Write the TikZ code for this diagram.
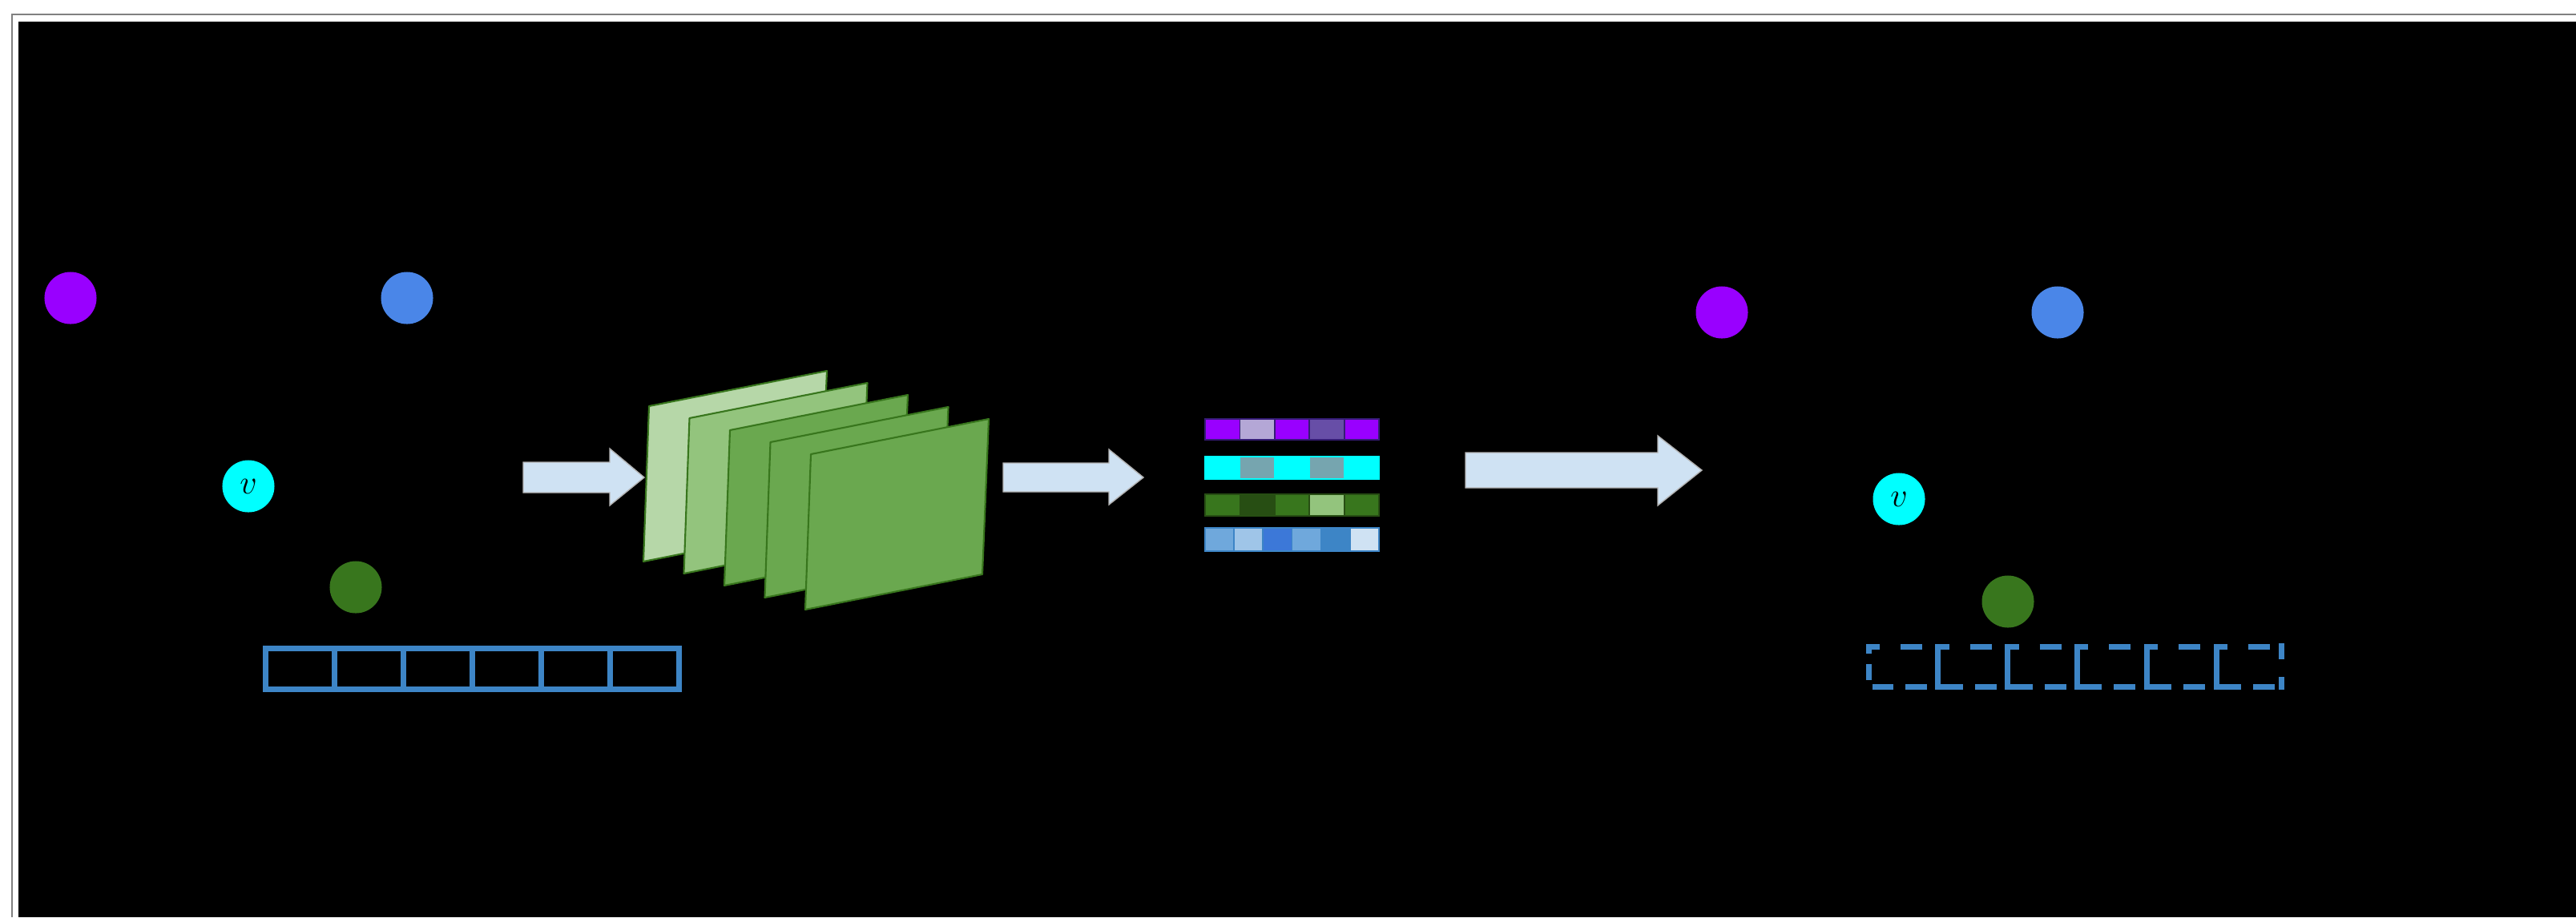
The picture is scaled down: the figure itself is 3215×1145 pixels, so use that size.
\documentclass[tikz,border=0pt]{standalone}
\usepackage{tikz}

\definecolor{violetx}{HTML}{9900FF}
\definecolor{lavx}{HTML}{B4A7D6}
\definecolor{plumx}{HTML}{674EA7}
\definecolor{plumedge}{HTML}{351C75}
\definecolor{skyx}{HTML}{4A86E8}
\definecolor{aqua}{HTML}{00FFFF}
\definecolor{tealgray}{HTML}{76A5AF}
\definecolor{leaf}{HTML}{38761D}
\definecolor{darkleaf}{HTML}{274E13}
\definecolor{sage1}{HTML}{B6D7A8}
\definecolor{sage2}{HTML}{93C47D}
\definecolor{sage3}{HTML}{6AA84F}
\definecolor{barblue}{HTML}{3D85C6}
\definecolor{blue1}{HTML}{6FA8DC}
\definecolor{blue2}{HTML}{9FC5E8}
\definecolor{blue3}{HTML}{3C78D8}
\definecolor{pale}{HTML}{CFE2F3}

\begin{document}
\begin{tikzpicture}[x=0.01cm,y=-0.01cm,
                    ball/.style={circle, minimum size=0.65cm, inner sep=0pt},
                    plane/.style={draw=leaf, line width=0.6pt, line join=round},
                    cell/.style={line width=0.5pt},
                    slot/.style={draw=barblue, line width=0.07cm},
                    fatarrow/.style={fill=pale, draw=gray!60, line width=0.4pt}]

    \useasboundingbox (0,0) rectangle (3215,1145);
    \fill[white] (0,0) rectangle (3215,1145);
    \draw[gray, line width=0.5pt] (15,1145) -- (15,18) -- (3215,18);
    \fill[black] (23,27) rectangle (3215,1145);

    % input graph
    \node[ball, fill=violetx] (inP) at (88,372) {};
    \node[ball, fill=skyx] (inB) at (508,372) {};
    \node[ball, fill=aqua] (inV) at (310,607) {\large $v$};
    \node[ball, fill=leaf] (inG) at (444,733) {};
    \draw[slot] (331,809) rectangle (847,860);
    \foreach \i in {1,...,5}
        \draw[slot] (331+86*\i,809) -- (331+86*\i,860);

    \draw[fatarrow] (653,577) -- (761,577) -- (761,560) -- (804,596)
        -- (761,631) -- (761,615) -- (653,615) -- cycle;

    % stacked feature maps
    \foreach \c [count=\i from 0] in {sage1,sage2,sage3,sage3,sage3}
        \filldraw[plane, fill=\c] ({810+50.5*\i},{507+15*\i}) -- ++(222,-44)
            -- ++(-8,194) -- ++(-221,44) -- cycle;

    \draw[fatarrow] (1252,578) -- (1384,578) -- (1384,561) -- (1427,596)
        -- (1384,630) -- (1384,614) -- (1252,614) -- cycle;

    % embeddings
    \foreach \c [count=\i from 0] in {violetx,lavx,violetx,plumx,violetx}
        \filldraw[cell, draw=plumedge, fill=\c] ({1504+43.4*\i},523) rectangle ++(43.4,26);
    \foreach \c [count=\i from 0] in {aqua,tealgray,aqua,tealgray,aqua}
        \filldraw[cell, draw=aqua, fill=\c] ({1504+43.4*\i},570) rectangle ++(43.4,28);
    \foreach \c [count=\i from 0] in {leaf,darkleaf,leaf,sage2,leaf}
        \filldraw[cell, draw=darkleaf, fill=\c] ({1504+43.4*\i},617) rectangle ++(43.4,27);
    \foreach \c [count=\i from 0] in {blue1,blue2,blue3,blue1,barblue,pale}
        \filldraw[cell, draw=barblue, fill=\c] ({1504+36.17*\i},659) rectangle ++(36.17,29);

    \draw[fatarrow] (1829,565) -- (2069,565) -- (2069,544) -- (2124,587)
        -- (2069,631) -- (2069,609) -- (1829,609) -- cycle;

    % output graph
    \node[ball, fill=violetx] (outP) at (2149,390) {};
    \node[ball, fill=skyx] (outB) at (2568,390) {};
    \node[ball, fill=aqua] (outV) at (2370,623) {\large $v$};
    \node[ball, fill=leaf] (outG) at (2506,751) {};
    % dashed slots
    \foreach \i in {0,...,5} {
        \pgfmathsetmacro\xl{2328+86.8*\i}
        \ifnum\i>0
            \draw[slot] (\xl+18,807) -- (\xl+4,807) -- (\xl+4,857) -- (\xl+35,857);
        \fi
        \draw[slot] (\xl+44,807) -- (\xl+71,807);
        \draw[slot] (\xl+50,857) -- (\xl+77,857);
    }
    \draw[slot] (2346,807) -- (2332,807) -- (2332,816);
    \draw[slot] (2332,829) -- (2332,849);
    \draw[slot] (2337,857) -- (2363,857);
    \draw[slot] (2847,803) -- (2847,823);
    \draw[slot] (2847,845) -- (2847,861);

\end{tikzpicture}
\end{document}
